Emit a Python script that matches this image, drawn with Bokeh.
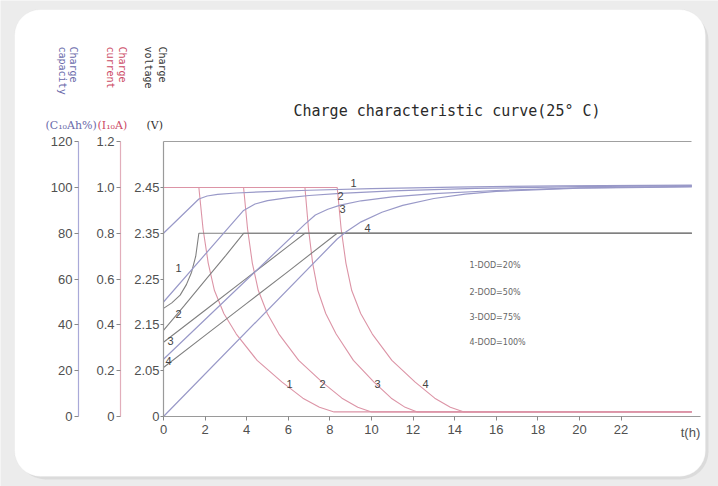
import math
from bokeh.plotting import figure
from bokeh.models import Range1d, LinearAxis, FixedTicker, BoxAnnotation, Label
from bokeh.embed import file_html
from bokeh.resources import INLINE
from bokeh.core.properties import value

# ---------------- data ----------------
T_END = 25.4
x_ticks = [0, 2, 4, 6, 8, 10, 12, 14, 16, 18, 20, 22]
cap_ticks = [0, 20, 40, 60, 80, 100, 120]
amp_ticks = [0, 0.2, 0.4, 0.6, 0.8, 1.0, 1.2]
amp_tick_labels = ["0", "0.2", "0.4", "0.6", "0.8", "1.0", "1.2"]
volt_ticks = [1.95, 2.05, 2.15, 2.25, 2.35, 2.45]
volt_tick_labels = ["0", "2.05", "2.15", "2.25", "2.35", "2.45"]
dod_legend = ["1-DOD=20%", "2-DOD=50%", "3-DOD=75%", "4-DOD=100%"]
curve_ids = ["1", "2", "3", "4"]

# charge voltage (V/cell) vs time (h)
volt1_h = [0, 0.4, 0.8, 1.1, 1.35, 1.55, 1.7, 25.4]
volt1_v = [2.186, 2.198, 2.215, 2.238, 2.265, 2.300, 2.35, 2.35]
volt2_h = [0, 1.0, 2.0, 3.0, 3.85, 25.4]
volt2_v = [2.138, 2.192, 2.247, 2.302, 2.35, 2.35]
volt3_h = [0, 2.0, 4.0, 6.0, 6.8, 25.4]
volt3_v = [2.112, 2.182, 2.252, 2.322, 2.35, 2.35]
volt4_h = [0, 2.0, 4.0, 6.0, 8.35, 25.4]
volt4_v = [2.057, 2.127, 2.197, 2.267, 2.35, 2.35]

# charge current (x I10 A) vs time (h)
amp1_h = [0, 1.7, 1.9, 2.15, 2.45, 2.9, 3.5, 4.5, 5.7, 6.7, 7.5, 8.2, 25.4]
amp2_h = [0, 3.85, 4.04, 4.27, 4.56, 4.99, 5.55, 6.5, 7.63, 8.58, 9.34, 10.0, 25.4]
amp3_h = [0, 6.8, 6.97, 7.17, 7.42, 7.8, 8.3, 9.13, 10.12, 10.95, 11.62, 12.2, 25.4]
amp4_h = [0, 8.35, 8.54, 8.77, 9.05, 9.48, 10.04, 10.98, 12.1, 13.04, 13.79, 14.45, 25.4]
amp1_i = [1.0, 1.0, 0.82, 0.67, 0.55, 0.45, 0.36, 0.245, 0.15, 0.08, 0.04, 0.02, 0.02]
amp2_i = [1.0, 1.0, 0.82, 0.67, 0.55, 0.45, 0.36, 0.245, 0.15, 0.08, 0.04, 0.02, 0.02]
amp3_i = [1.0, 1.0, 0.82, 0.67, 0.55, 0.45, 0.36, 0.245, 0.15, 0.08, 0.04, 0.02, 0.02]
amp4_i = [1.0, 1.0, 0.82, 0.67, 0.55, 0.45, 0.36, 0.245, 0.15, 0.08, 0.04, 0.02, 0.02]

# charged capacity (% of C10) vs time (h)
cap1_h = [0, 1.7, 2.1, 2.6, 3.5, 5, 7, 10, 14, 19, 25.4]
cap1_c = [80, 95, 96.3, 97, 97.6, 98.2, 98.8, 99.5, 100.2, 100.7, 101]
cap2_h = [0, 3.85, 4.4, 5, 6, 7, 8.5, 11, 15, 20, 25.4]
cap2_c = [50, 90, 92.8, 94.3, 95.6, 96.5, 97.4, 98.5, 99.6, 100.4, 100.8]
cap3_h = [0, 6.8, 7.3, 7.9, 8.5, 9.5, 11, 13, 16, 20, 25.4]
cap3_c = [25, 84, 88, 90.5, 92.3, 94.2, 95.9, 97.3, 98.7, 99.8, 100.5]
cap4_h = [0, 8.35, 8.8, 9.5, 10.5, 11.5, 13, 14.5, 16, 20, 25.4]
cap4_c = [0, 77.5, 80.8, 85, 89.2, 92.2, 95.2, 97.1, 98.3, 99.7, 100.3]

# ---------------- layout helpers (pixel geometry of the frame) ----------------
W, H = 718, 486
X0PX, PXH = 163.0, 20.8     # x pixel of t=0, pixels per hour
Y0PX, PXV = 416.0, 2.29     # y pixel of 0 %, pixels per %

def hx(px):
    return (px - X0PX) / PXH

def vy(py):
    return (Y0PX - py) / PXV

y0, y1 = vy(H), vy(0)
p = figure(width=W, height=H, x_range=Range1d(hx(0), hx(W)), y_range=Range1d(y0, y1),
           x_axis_type=None, y_axis_type=None, toolbar_location=None,
           output_backend="svg", min_border=0, outline_line_color=None,
           background_fill_color="#ececec", border_fill_color="#ececec")
# voltage scale: 2.45 V at 100 %, 0.1 V per 20 %; current scale: 1.0 at 100 %
p.extra_y_ranges = {
    "volt": Range1d(1.95 + y0 * 0.005, 1.95 + y1 * 0.005),
    "amp": Range1d(y0 / 100.0, y1 / 100.0),
}

# card background
p.add_layout(BoxAnnotation(left=hx(17), right=hx(708), top=vy(12), bottom=vy(479),
                           fill_color="#d4d4d4", fill_alpha=0.7, line_color=None,
                           border_radius=28, level="underlay"))
p.add_layout(BoxAnnotation(left=hx(14), right=hx(705), top=vy(9), bottom=vy(476),
                           fill_color="white", fill_alpha=1.0, line_color="#e0e0e0",
                           border_radius=26, level="underlay"))

LBL_FONT = "Liberation Sans"
TICK_COL = "#505050"

def style_axis(ax, line_col, tick_out, standoff):
    ax.axis_line_color = line_col
    ax.axis_line_width = 1.2
    ax.major_tick_line_color = "#888888"
    ax.major_tick_out = tick_out
    ax.major_tick_in = 0
    ax.minor_tick_out = 0
    ax.minor_tick_in = 0
    ax.major_label_text_font = LBL_FONT
    ax.major_label_text_font_size = "13px"
    ax.major_label_text_color = TICK_COL
    ax.major_label_standoff = standoff

cap_axis = LinearAxis(fixed_location=hx(78), bounds=(0, 120), ticker=FixedTicker(ticks=cap_ticks))
style_axis(cap_axis, "#a9a9d8", 4, 2)
p.add_layout(cap_axis, "left")

amp_axis = LinearAxis(y_range_name="amp", fixed_location=hx(120), bounds=(0, 1.2),
                      ticker=FixedTicker(ticks=amp_ticks),
                      major_label_overrides={t: s for t, s in zip(amp_ticks, amp_tick_labels)})
style_axis(amp_axis, "#e2aebb", 4, 2)
p.add_layout(amp_axis, "left")

volt_axis = LinearAxis(y_range_name="volt", fixed_location=0, bounds=(1.95, 2.55),
                       ticker=FixedTicker(ticks=volt_ticks),
                       major_label_overrides={t: s for t, s in zip(volt_ticks, volt_tick_labels)})
style_axis(volt_axis, "#9a9a9a", 3, 1)
p.add_layout(volt_axis, "left")

x_axis = LinearAxis(fixed_location=0, bounds=(0, hx(700)), ticker=FixedTicker(ticks=x_ticks))
style_axis(x_axis, "#9a9a9a", 4, 4)
p.add_layout(x_axis, "below")

top_axis = LinearAxis(fixed_location=120, bounds=(0, T_END), ticker=FixedTicker(ticks=[]),
                      major_label_text_font_size="0px")
top_axis.axis_line_color = "#a0a0a0"
top_axis.axis_line_width = 1.2
p.add_layout(top_axis, "above")

# ---------------- curves ----------------
VOLT_COL = "#808080"
AMP_COL = "#dc94a6"
CAP_COL = "#9999c8"

for hh, ii in [(amp1_h, amp1_i), (amp2_h, amp2_i), (amp3_h, amp3_i), (amp4_h, amp4_i)]:
    p.line(hh, ii, y_range_name="amp", line_color=AMP_COL, line_width=1.1)
for hh, vv in [(volt1_h, volt1_v), (volt2_h, volt2_v), (volt3_h, volt3_v), (volt4_h, volt4_v)]:
    p.line(hh, vv, y_range_name="volt", line_color=VOLT_COL, line_width=1.1)
for hh, cc in [(cap1_h, cap1_c), (cap2_h, cap2_c), (cap3_h, cap3_c), (cap4_h, cap4_c)]:
    p.line(hh, cc, line_color=CAP_COL, line_width=1.2)

# ---------------- curve number labels ----------------
volt_lab_h = [hx(178), hx(178), hx(170), hx(168)]
volt_lab_v = [vy(267), vy(313), vy(340), vy(360)]
cap_lab_h = [hx(353), hx(340), hx(342), hx(367)]
cap_lab_v = [vy(182), vy(195), vy(208), vy(227)]
amp_lab_h = [hx(289), hx(322), hx(377), hx(425)]
amp_lab_v = [vy(383)] * 4

num_style = dict(text_font=value(LBL_FONT), text_font_size="11px", text_color="#444444",
                 text_align="center", text_baseline="middle")
p.text(volt_lab_h, volt_lab_v, text=curve_ids, **num_style)
p.text(cap_lab_h, cap_lab_v, text=curve_ids, **num_style)
p.text(amp_lab_h, amp_lab_v, text=curve_ids, **num_style)

# DOD legend
leg_h = [hx(469)] * 4
leg_v = [vy(265), vy(292), vy(317), vy(342)]
p.text(leg_h, leg_v, text=dod_legend, text_font=value("DejaVu Sans"), text_font_size="8px",
       text_color="#666666", text_align="left", text_baseline="middle")

# ---------------- titles ----------------
p.add_layout(Label(x=hx(293), y=vy(110), text="Charge characteristic curve(25\u00b0 C)",
                   text_font="DejaVu Sans Mono", text_font_size="15px", text_color="#2a2a2a",
                   text_align="left", text_baseline="middle"))
p.add_layout(Label(x=hx(690), y=vy(432), text="t(h)", text_font=LBL_FONT, text_font_size="13px",
                   text_color=TICK_COL, text_align="center", text_baseline="middle"))

rot_titles = [
    ("Charge", 72.5, "#6a6aaa"), ("capacity", 61.5, "#6a6aaa"),
    ("Charge", 121.5, "#cc4a66"), ("current", 109.5, "#cc4a66"),
    ("Charge", 161.5, "#333333"), ("voltage", 147.5, "#333333"),
]
for txt, xpx, col in rot_titles:
    p.add_layout(Label(x=hx(xpx), y=vy(46), text=txt, angle=-math.pi / 2,
                       text_font="DejaVu Sans Mono", text_font_size="10px", text_color=col,
                       text_align="left", text_baseline="middle"))

unit_titles = [("(C\u2081\u2080Ah%)", 45, "#6a6aaa"), ("(I\u2081\u2080A)", 97, "#cc4a66"),
               ("(V)", 146, "#333333")]
for txt, xpx, col in unit_titles:
    p.add_layout(Label(x=hx(xpx), y=vy(125), text=txt, text_font="DejaVu Serif",
                       text_font_size="11px", text_color=col,
                       text_align="left", text_baseline="middle"))

open("out.html", "w").write(file_html(p, INLINE))
